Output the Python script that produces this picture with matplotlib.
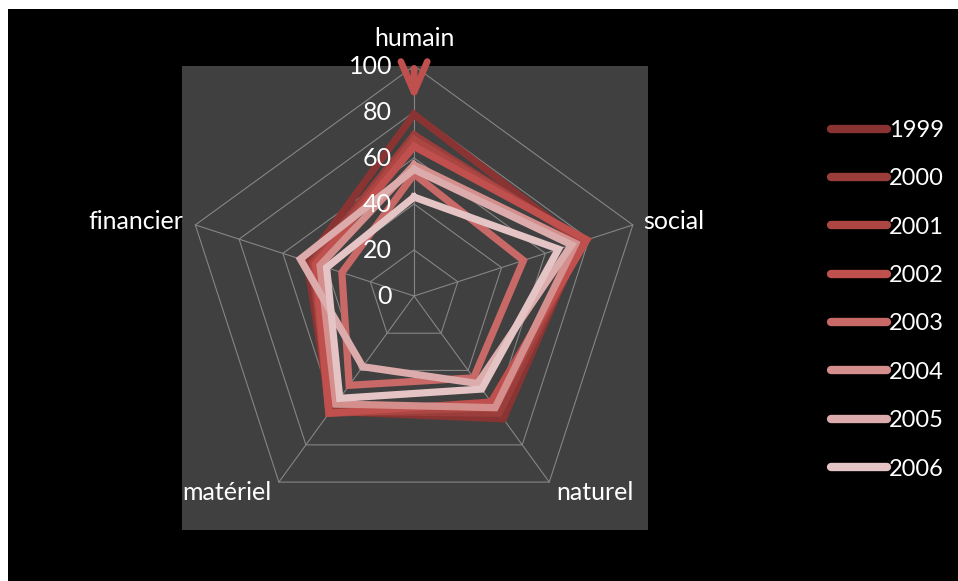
import numpy as np
import matplotlib
matplotlib.use("Agg")
import matplotlib.pyplot as plt
from matplotlib.patches import Rectangle
from matplotlib.lines import Line2D

plt.rcParams['font.family'] = ['Lato', 'DejaVu Sans']

# ===== données =====
axes_names = ['humain', 'social', 'naturel', 'matériel', 'financier']
years = ['1999', '2000', '2001', '2002', '2003', '2004', '2005', '2006']
v1999 = [79, 76, 66, 62, 49]
v2000 = [70, 77, 63, 62, 47]
v2001 = [68, 78, 60, 63, 46]
v2002 = [65, 79, 57, 63, 45]
v2003 = [53, 50, 44, 48, 33]
v2004 = [57, 74, 60, 58, 43]
v2005 = [55, 72, 47, 38, 52]
v2006 = [43, 66, 50, 55, 40]
series = [v1999, v2000, v2001, v2002, v2003, v2004, v2005, v2006]
colors = ['#893432', '#9B3D3B', '#AC4643', '#C0504D',
          '#C86967', '#D48E8C', '#DBACAB', '#E4C4C4']
levels = [0, 20, 40, 60, 80, 100]
arrow_from, arrow_to = 99, 85   # flèche sur l'axe humain

# ===== géométrie =====
theta = np.deg2rad(90 - 72 * np.arange(len(axes_names)))
ct, st = np.cos(theta), np.sin(theta)

def closed_xy(vals):
    v = np.asarray(vals, dtype=float)
    x, y = v * ct, v * st
    return np.append(x, x[0]), np.append(y, y[0])

W, H = 958, 581
fig = plt.figure(figsize=(W / 100, H / 100), dpi=100, facecolor='white')
fig.add_artist(Rectangle((8 / W, 0), 1 - 8 / W, 1 - 9 / H, transform=fig.transFigure,
                         facecolor='black', edgecolor='none', zorder=-10))

ax = fig.add_axes([182 / W, 1 - 530 / H, 466 / W, 464.3 / H])
ax.set_facecolor('#404040')
ax.set_xlim(-100.9, 101.7)
ax.set_ylim(-101.7, 100.1)
ax.set_aspect('equal', adjustable='box')
ax.set_xticks([])
ax.set_yticks([])
for s in ax.spines.values():
    s.set_visible(False)

# grille pentagonale + rayons
grid_c = '#858585'
for lv in levels[1:]:
    gx, gy = closed_xy([lv] * len(axes_names))
    ax.plot(gx, gy, color=grid_c, lw=0.8, zorder=1)
for c, s in zip(ct, st):
    ax.plot([0, 100 * c], [0, 100 * s], color=grid_c, lw=0.8, zorder=1)

# séries
for vals, col in zip(series, colors):
    x, y = closed_xy(vals)
    ax.plot(x, y, color=col, lw=5.2, solid_joinstyle='miter', zorder=2)

ax.annotate('', xy=(0, arrow_to), xytext=(0, arrow_from),
            arrowprops=dict(arrowstyle='->,head_length=2.2,head_width=0.95',
                            color='#C0504D', lw=4.8, shrinkA=0, shrinkB=0),
            zorder=3, annotation_clip=False)

# étiquettes de graduation
for lv in levels:
    ax.text(-9.5, lv, str(lv), color='white', fontsize=18, ha='right',
            va='center', zorder=4)

# noms des axes
offsets = [(0, 28, 'center'), (10, 3, 'left'), (7, -10, 'left'),
           (-7, -10, 'right'), (-12, 3, 'right')]
for name, c, s, (dx, dy, ha) in zip(axes_names, ct, st, offsets):
    ax.annotate(name, xy=(100 * c, 100 * s), xytext=(dx, dy),
                textcoords='offset pixels', color='white', fontsize=18,
                ha=ha, va='center', annotation_clip=False)

# légende
handles = [Line2D([], [], color=col, lw=6, solid_capstyle='round') for col in colors]
leg = fig.legend(handles, years, loc='upper left',
                 bbox_to_anchor=(819 / W, 1 - 108 / H), frameon=False,
                 fontsize=17, handlelength=2.4, handletextpad=0.08,
                 labelspacing=1.16, borderpad=0)
for t in leg.get_texts():
    t.set_color('white')

fig.savefig('out.png', dpi=100, facecolor=fig.get_facecolor())
